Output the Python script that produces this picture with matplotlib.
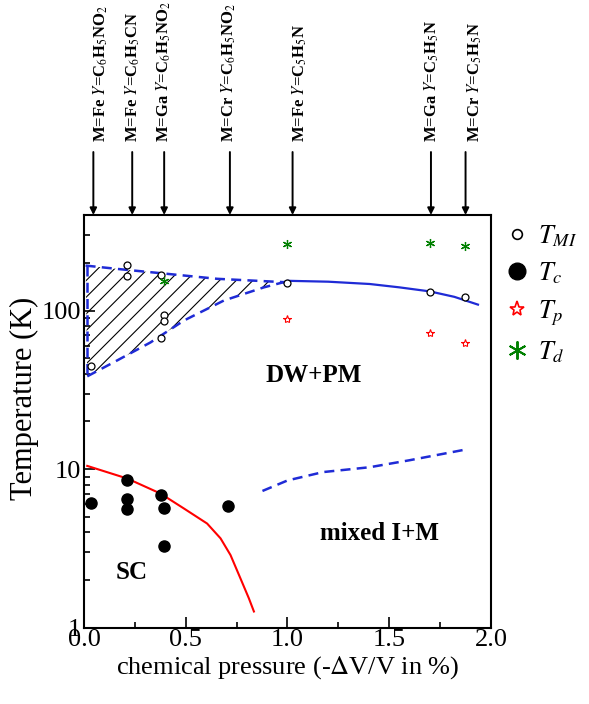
import numpy as np
import matplotlib
matplotlib.use("Agg")
import matplotlib.pyplot as plt
from matplotlib.lines import Line2D

plt.rcParams['font.family'] = 'serif'
plt.rcParams['font.serif'] = ['Liberation Serif', 'DejaVu Serif']
plt.rcParams['mathtext.fontset'] = 'stix'
plt.rcParams['hatch.linewidth'] = 0.8

# data
tmi_x = [0.034, 0.213, 0.213, 0.378, 0.394, 0.394, 0.378, 1.0, 1.70, 1.872]
tmi_y = [44.6, 194, 164, 168, 94, 86.5, 67.6, 150, 130, 121]

tc_x = [0.034, 0.213, 0.213, 0.213, 0.378, 0.394, 0.394, 0.709]
tc_y = [6.1, 8.5, 6.5, 5.6, 6.9, 5.7, 3.3, 5.9]

tp_x = [1.0, 1.70, 1.872]
tp_y = [88, 72.5, 62.3]

td_x = [0.394, 1.0, 1.70, 1.872]
td_y = [153, 263, 265, 256]

# phase boundaries
sc_x = [0.016, 0.213, 0.376, 0.491, 0.605, 0.671, 0.72, 0.769, 0.81, 0.835]
sc_y = [10.5, 8.74, 7.03, 5.66, 4.55, 3.67, 2.88, 2.05, 1.54, 1.27]

mi_x = [0.877, 1.0, 1.175, 1.404, 1.6, 1.887]
mi_y = [7.3, 8.5, 9.6, 10.3, 11.4, 13.4]

mit_x = [0.982, 1.0, 1.2, 1.404, 1.55, 1.70, 1.82, 1.936]
mit_y = [151, 154, 152, 147, 140, 132, 122, 109]

up_x = [0.008, 0.163, 0.376, 0.654, 0.982]
up_y = [192, 183, 172, 158.5, 151]

lo_x = [0.016, 0.163, 0.327, 0.491, 0.687, 0.884, 0.982]
lo_y = [38.5, 48.5, 63, 86.5, 115.6, 140, 151]

arrow_x = [0.046, 0.237, 0.394, 0.717, 1.025, 1.705, 1.875]
label_x = [0.083, 0.24, 0.393, 0.712, 1.06, 1.707, 1.92]
labels = ['M=Fe $Y$=C$_6$H$_5$NO$_2$',
          'M=Fe $Y$=C$_6$H$_5$CN',
          'M=Ga $Y$=C$_6$H$_5$NO$_2$',
          'M=Cr $Y$=C$_6$H$_5$NO$_2$',
          'M=Fe $Y$=C$_5$H$_5$N',
          'M=Ga $Y$=C$_5$H$_5$N',
          'M=Cr $Y$=C$_5$H$_5$N']

fig = plt.figure(figsize=(5.89, 7.04), dpi=100)
ax = fig.add_axes([0.1426, 0.108, 0.691, 0.5866])

blue = '#1f2bd6'
dash = (0, (4, 2.5))

# hatched region
ax.fill(np.r_[up_x, lo_x[::-1]], np.r_[up_y, lo_y[::-1]], fill=False,
        hatch='//', edgecolor='black', linewidth=0)
ax.plot(up_x, up_y, color=blue, ls=dash, lw=1.8)
ax.plot(lo_x, lo_y, color=blue, ls=dash, lw=1.8)
ax.plot([lo_x[0], lo_x[0]], [up_y[0], lo_y[0]], color=blue, ls=dash, lw=1.8)
ax.plot(mit_x, mit_y, color=blue, lw=1.6)
ax.plot(mi_x, mi_y, color=blue, ls=dash, lw=1.8)
ax.plot(sc_x, sc_y, color='red', lw=1.5)

ax.plot(tmi_x, tmi_y, 'o', mfc='white', mec='black', ms=5, mew=0.9)
ax.plot(tc_x, tc_y, 'o', color='black', ms=8)
ax.plot(tp_x, tp_y, '*', mfc='white', mec='red', ms=6, mew=0.8)
ax.plot(td_x, td_y, ls='', marker=(6, 2, 0), color='green', ms=6.5, mew=0.9)

ax.set_yscale('log')
ax.set_xlim(0, 2.0)
ax.set_ylim(1, 400)
ax.set_xticks([0.0, 0.5, 1.0, 1.5, 2.0])
ax.set_xticks([0.25, 0.75, 1.25, 1.75], minor=True)
ax.set_xticklabels(['0.0', '0.5', '1.0', '1.5', '2.0'])
ax.set_yticks([1, 10, 100])
ax.set_yticklabels(['1', '10', '100'])
ax.tick_params(which='both', direction='in', top=False, right=False, labelsize=19, width=1.2)
ax.tick_params(which='major', length=8)
ax.tick_params(which='minor', length=4)
ax.tick_params(axis='x', pad=1)
ax.tick_params(axis='y', pad=2)
for s in ax.spines.values():
    s.set_linewidth(1.5)

ax.set_xlabel('chemical pressure (-$\\Delta$V/V in %)', fontsize=19, labelpad=2)
ax.set_ylabel('Temperature (K)', fontsize=22)
ax.yaxis.set_label_coords(-0.11, 0.557)

ax.text(1.13, 39, 'DW+PM', fontsize=18, fontweight='bold', ha='center', va='center')
ax.text(1.453, 3.96, 'mixed I+M', fontsize=18, fontweight='bold', ha='center', va='center')
ax.text(0.236, 2.25, 'SC', fontsize=18, fontweight='bold', ha='center', va='center')

trans = ax.get_xaxis_transform()
for ax_, lx_, lab in zip(arrow_x, label_x, labels):
    ax.annotate('', xy=(ax_, 1.0), xycoords=trans, xytext=(ax_, 1.1525), textcoords=trans,
                arrowprops=dict(arrowstyle='-|>', color='black', lw=1.4, mutation_scale=10,
                                shrinkA=0, shrinkB=0), annotation_clip=False)
    ax.text(lx_, 1.177, lab, transform=trans, rotation=90, ha='center', va='bottom',
            fontsize=12, fontweight='bold')

handles = [Line2D([], [], ls='', marker='o', mfc='white', mec='black', ms=7, mew=1.2),
           Line2D([], [], ls='', marker='o', color='black', ms=12),
           Line2D([], [], ls='', marker='*', mfc='white', mec='red', ms=11, mew=1.2),
           Line2D([], [], ls='', marker=(6, 2, 0), color='green', ms=13, mew=1.4)]
leg = fig.legend(handles, ['$T_{MI}$', '$T_c$', '$T_p$', '$T_d$'], loc='upper left',
                 bbox_to_anchor=(0.855, 0.683), frameon=False, fontsize=19,
                 borderpad=0, borderaxespad=0, handletextpad=0.3,
                 labelspacing=0.45, handlelength=1.0)

fig.savefig('out.png', dpi=100)
